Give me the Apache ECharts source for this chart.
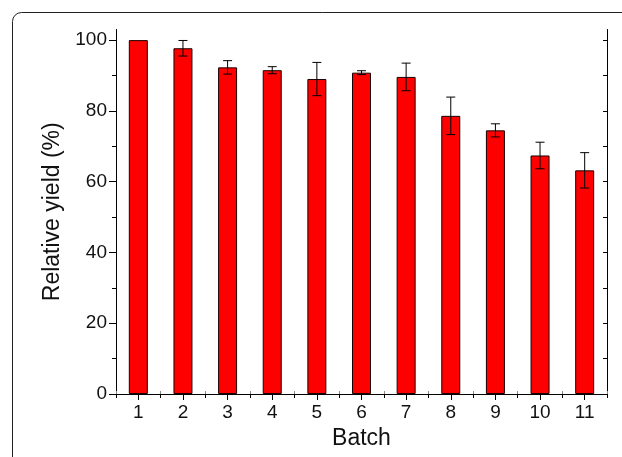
<!DOCTYPE html>
<html>
<head>
<meta charset="utf-8">
<script src="https://cdn.jsdelivr.net/npm/echarts@6/dist/echarts.min.js"></script>
<style>
html,body{margin:0;padding:0;background:#fff;}
#chart{width:622px;height:457px;}
</style>
</head>
<body>
<div id="chart"></div>
<script>
var categories = ['1','2','3','4','5','6','7','8','9','10','11'];
var yieldMean = [100, 97.7, 92.3, 91.5, 89.0, 90.8, 89.6, 78.6, 74.5, 67.4, 63.2];
var yieldErr  = [0, 2.2, 1.9, 1.0, 4.7, 0.55, 3.9, 5.3, 1.85, 3.75, 5.0];
var yMajorTicks = [0, 20, 40, 60, 80, 100];
var yMinorTicks = [10, 30, 50, 70, 90];
var yRightTicks = [0, 10, 20, 30, 40, 50, 60, 70, 80, 90, 100];
var xAxisTitle = 'Batch';
var yAxisTitle = 'Relative yield (%)';

var errData = [];
for (var i = 0; i < categories.length; i++) {
  if (yieldErr[i] > 0) errData.push([i, yieldMean[i] - yieldErr[i], yieldMean[i] + yieldErr[i]]);
}

var FONT = '"Liberation Sans", Arial, sans-serif';
var chart = echarts.init(document.getElementById('chart'), null, {renderer: 'canvas'});
var yMax = 103;
var option = {
  animation: false,
  backgroundColor: '#fff',
  textStyle: {fontFamily: FONT},
  graphic: [{
    type: 'rect',
    shape: {x: 12.5, y: 12.5, width: 700, height: 700, r: 9},
    style: {fill: 'none', stroke: '#222', lineWidth: 1},
    silent: true, z: -10
  }],
  grid: {left: 116, right: 15, top: 29.5, bottom: 63},
  xAxis: [{
    type: 'category', data: categories, position: 'bottom',
    axisLine: {show: true, lineStyle: {color: '#000', width: 1}},
    axisTick: {show: true, alignWithLabel: true, inside: false, length: 6, lineStyle: {color: '#000'}},
    axisLabel: {fontSize: 19, color: '#111', margin: 9, fontFamily: FONT},
    splitLine: {show: false},
    name: xAxisTitle, nameLocation: 'middle', nameGap: 31,
    nameTextStyle: {fontSize: 23, color: '#111', fontFamily: FONT}
  }, {
    type: 'category', data: categories, position: 'bottom',
    axisLine: {show: false},
    axisTick: {show: true, alignWithLabel: false, inside: true, length: 3, lineStyle: {color: '#888'}},
    axisLabel: {show: false}, splitLine: {show: false}
  }, {
    type: 'value', position: 'top', min: 0.5, max: 11.5, interval: 0.5,
    axisLine: {show: true, lineStyle: {color: '#000', width: 1}},
    axisTick: {show: true, inside: true, length: 4, lineStyle: {color: '#000'}},
    axisLabel: {show: false}, splitLine: {show: false}
  }],
  yAxis: [{
    type: 'value', position: 'left', min: 0, max: yMax, interval: 20,
    axisLine: {show: true, lineStyle: {color: '#000', width: 1}},
    axisTick: {show: true, inside: false, length: 7, customValues: yMajorTicks, lineStyle: {color: '#000'}},
    axisLabel: {fontSize: 19, color: '#111', margin: 9, customValues: yMajorTicks, fontFamily: FONT},
    splitLine: {show: false},
    name: yAxisTitle, nameLocation: 'middle', nameGap: 46, nameRotate: 90,
    nameTextStyle: {fontSize: 23, color: '#111', fontFamily: FONT}
  }, {
    type: 'value', position: 'left', min: 0, max: yMax, interval: 10,
    axisLine: {show: false},
    axisTick: {show: true, inside: false, length: 4, customValues: yMinorTicks, lineStyle: {color: '#000'}},
    axisLabel: {show: false}, splitLine: {show: false}
  }, {
    type: 'value', position: 'right', min: 0, max: yMax, interval: 10,
    axisLine: {show: true, lineStyle: {color: '#000', width: 1}},
    axisTick: {show: true, inside: true, length: 4, customValues: yRightTicks, lineStyle: {color: '#000'}},
    axisLabel: {show: false}, splitLine: {show: false}
  }],
  series: [{
    type: 'bar', data: yieldMean, xAxisIndex: 0, yAxisIndex: 0,
    barWidth: 19,
    itemStyle: {color: '#ff0000', borderColor: '#1a0000', borderWidth: 1},
    z: 2
  }, {
    type: 'custom', data: errData, xAxisIndex: 0, yAxisIndex: 0, z: 5,
    renderItem: function (params, api) {
      var x = api.value(0);
      var pLo = api.coord([x, api.value(1)]);
      var pHi = api.coord([x, api.value(2)]);
      var h = 4.5;
      var st = {stroke: '#000', lineWidth: 1};
      return {type: 'group', children: [
        {type: 'line', shape: {x1: pHi[0], y1: pHi[1], x2: pLo[0], y2: pLo[1]}, style: st},
        {type: 'line', shape: {x1: pHi[0] - h, y1: pHi[1], x2: pHi[0] + h, y2: pHi[1]}, style: st},
        {type: 'line', shape: {x1: pLo[0] - h, y1: pLo[1], x2: pLo[0] + h, y2: pLo[1]}, style: st}
      ]};
    }
  }]
};
chart.setOption(option);
</script>
</body>
</html>
